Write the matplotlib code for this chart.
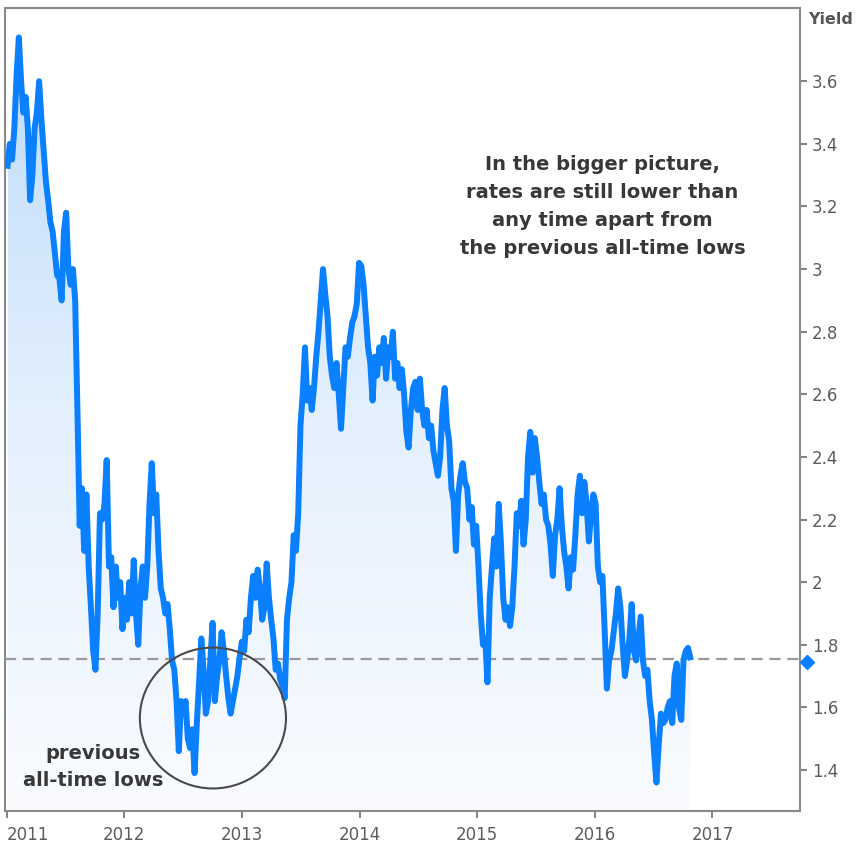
import numpy as np
import pandas as pd
import matplotlib
matplotlib.use('Agg')
import matplotlib.pyplot as plt
import matplotlib.dates as mdates
import matplotlib.transforms as mtransforms
from matplotlib.patches import Ellipse
from matplotlib.colors import LinearSegmentedColormap

# ---- 10yr treasury yield, weekly readings (Mondays), one list per year ----
y2011 = [3.33, 3.40, 3.35, 3.45, 3.62, 3.74, 3.60, 3.50, 3.55, 3.45,
         3.22, 3.30, 3.45, 3.50, 3.60, 3.48, 3.38, 3.28, 3.22, 3.15,
         3.12, 3.05, 2.98, 2.97, 2.90, 3.12, 3.18, 3.00, 2.95, 3.00,
         2.90, 2.55, 2.18, 2.30, 2.10, 2.28, 2.05, 1.92, 1.78, 1.72,
         1.90, 2.22, 2.20, 2.25, 2.39, 2.05, 2.08, 1.92, 2.05, 1.95,
         2.00, 1.85]
y2012 = [1.95, 1.88, 2.00, 1.90, 2.07, 1.90, 1.80, 1.98, 2.05, 1.95,
         2.05, 2.25, 2.38, 2.22, 2.28, 2.10, 1.98, 1.95, 1.90, 1.93,
         1.85, 1.75, 1.72, 1.62, 1.46, 1.62, 1.58, 1.62, 1.50, 1.47,
         1.53, 1.39, 1.55, 1.68, 1.82, 1.72, 1.58, 1.62, 1.75, 1.87,
         1.62, 1.70, 1.75, 1.84, 1.78, 1.70, 1.63, 1.58, 1.62, 1.66,
         1.70, 1.76, 1.81]
y2013 = [1.78, 1.88, 1.84, 1.95, 2.02, 1.95, 2.04, 1.98, 1.88, 1.92,
         2.06, 1.95, 1.88, 1.82, 1.72, 1.74, 1.69, 1.67, 1.63, 1.88,
         1.95, 2.00, 2.15, 2.10, 2.22, 2.50, 2.60, 2.75, 2.58, 2.62,
         2.55, 2.62, 2.72, 2.80, 2.90, 3.00, 2.92, 2.85, 2.72, 2.66,
         2.62, 2.70, 2.60, 2.49, 2.62, 2.75, 2.72, 2.78, 2.83, 2.85,
         2.89, 3.02]
y2014 = [3.01, 2.95, 2.85, 2.75, 2.70, 2.58, 2.72, 2.66, 2.75, 2.70,
         2.78, 2.65, 2.75, 2.72, 2.80, 2.65, 2.70, 2.62, 2.68, 2.60,
         2.48, 2.43, 2.55, 2.62, 2.64, 2.55, 2.65, 2.55, 2.50, 2.55,
         2.46, 2.50, 2.42, 2.38, 2.34, 2.40, 2.55, 2.62, 2.50, 2.45,
         2.30, 2.26, 2.10, 2.28, 2.34, 2.38, 2.32, 2.30, 2.20, 2.24,
         2.12, 2.18]
y2015 = [2.05, 1.90, 1.80, 1.82, 1.68, 1.95, 2.05, 2.14, 2.05, 2.25,
         2.12, 1.95, 1.88, 1.92, 1.86, 1.92, 2.05, 2.22, 2.18, 2.26,
         2.12, 2.20, 2.40, 2.48, 2.35, 2.46, 2.40, 2.32, 2.25, 2.28,
         2.20, 2.18, 2.12, 2.02, 2.15, 2.20, 2.30, 2.18, 2.10, 2.05,
         1.98, 2.08, 2.04, 2.15, 2.28, 2.34, 2.22, 2.32, 2.25, 2.13,
         2.22, 2.28]
y2016 = [2.25, 2.05, 2.00, 2.02, 1.85, 1.66, 1.75, 1.78, 1.84, 1.90,
         1.98, 1.92, 1.80, 1.70, 1.75, 1.82, 1.93, 1.78, 1.75, 1.82,
         1.89, 1.75, 1.70, 1.72, 1.62, 1.56, 1.45, 1.36, 1.48, 1.58,
         1.55, 1.56, 1.60, 1.62, 1.55, 1.70, 1.74, 1.60, 1.56, 1.75,
         1.78, 1.79, 1.76]
year_starts = ['2011-01-03', '2012-01-02', '2013-01-07',
               '2014-01-06', '2015-01-05', '2016-01-04']

current = 1.755
years = [2011, 2012, 2013, 2014, 2015, 2016, 2017]
ytick_vals = [1.4, 1.6, 1.8, 2, 2.2, 2.4, 2.6, 2.8, 3, 3.2, 3.4, 3.6]

note_text = ("In the bigger picture,\nrates are still lower than\n"
             "any time apart from\nthe previous all-time lows")
lows_text = "previous\nall-time lows"

# ---- build series ----
parts = []
for start, vals in zip(year_starts, [y2011, y2012, y2013, y2014, y2015, y2016]):
    parts.append(pd.Series(vals, index=pd.date_range(start, periods=len(vals), freq='7D')))
s = pd.concat(parts)

x = mdates.date2num(s.index.to_pydatetime())
y = s.values

line_col = '#0a80ff'
grey = '#5c5c5c'
ymin, ymax = 1.269, 3.834

fig = plt.figure(figsize=(8.56, 8.44), dpi=100)
ax = fig.add_axes([5/856, 33/844, 795/856, 803/844])

# gradient fill under the line
fill = ax.fill_between(x, y, ymin, facecolor='none', edgecolor='none')
clip = fill.get_paths()[0]
cmap = LinearSegmentedColormap.from_list('fade', ['#f9fbff', '#e4f0fd', '#bcdbfa'])
grad = np.linspace(0, 1, 256).reshape(-1, 1)
img = ax.imshow(grad, extent=[x[0], x[-1], ymin, 3.78], origin='lower',
                aspect='auto', cmap=cmap, zorder=1, interpolation='bilinear')
img.set_clip_path(clip, transform=ax.transData)

ax.plot(x, y, color=line_col, lw=4.3, zorder=3)

# current level
ax.axhline(current, color='#9a9a9a', lw=1.6, ls=(0, (5, 3)), zorder=2)
trans = mtransforms.blended_transform_factory(ax.transAxes, ax.transData)
ax.plot([1.009], [current - 0.01], marker='D', ms=7, color=line_col,
        transform=trans, clip_on=False, zorder=5)

# circle round the old lows
cx = mdates.date2num(pd.Timestamp('2012-10-02'))
ax.add_patch(Ellipse((cx, 1.566), 454, 0.45, fill=False, ec='#4a4a4a', lw=1.5, zorder=4))

ax.text(mdates.date2num(pd.Timestamp('2016-01-25')), 3.20, note_text, ha='center', va='center',
        fontsize=14, fontweight='bold', color='#383838', linespacing=1.62)
ax.text(mdates.date2num(pd.Timestamp('2011-09-25')), 1.41, lows_text, ha='center', va='center',
        fontsize=14, fontweight='bold', color='#383838', linespacing=1.55)

# axes
ax.set_xlim(mdates.date2num(pd.Timestamp('2010-12-26')), mdates.date2num(pd.Timestamp('2017-09-30')))
ax.set_ylim(ymin, ymax)
ax.set_xticks([mdates.date2num(pd.Timestamp(f'{yr}-01-01')) for yr in years])
ax.set_xticklabels([str(yr) for yr in years])
ax.get_xticklabels()[0].set_horizontalalignment('left')
ax.get_xticklabels()[0].set_x(ax.get_xticks()[0] - 8)
ax.yaxis.tick_right()
ax.set_yticks(ytick_vals)
ax.set_yticklabels([f'{v:g}' for v in ytick_vals])
ax.tick_params(axis='both', colors='#777777', labelcolor=grey, labelsize=12,
               length=5, width=1.3, direction='out')
ax.tick_params(axis='x', pad=6)
for sp in ax.spines.values():
    sp.set_color('#8a8a8a')
    sp.set_linewidth(1.5)

fig.text(808/856, 1 - 20/844, 'Yield', ha='left', va='center', fontsize=11.5,
         fontweight='bold', color='#555555')

fig.savefig('out.png', dpi=100)
